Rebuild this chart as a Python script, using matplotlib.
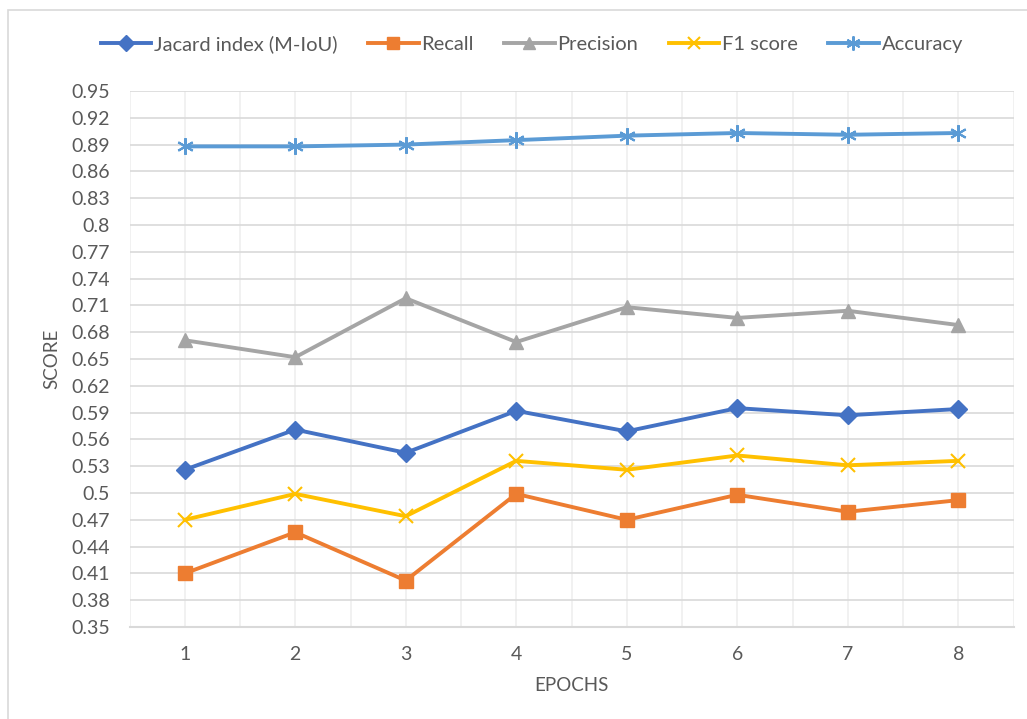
import numpy as np
import matplotlib
matplotlib.use('Agg')
import matplotlib.pyplot as plt
from matplotlib.patches import Rectangle

epochs = [1, 2, 3, 4, 5, 6, 7, 8]
jacard = [0.526, 0.571, 0.545, 0.592, 0.569, 0.595, 0.587, 0.594]
recall = [0.410, 0.456, 0.402, 0.499, 0.470, 0.498, 0.479, 0.492]
precision = [0.671, 0.652, 0.718, 0.669, 0.708, 0.696, 0.704, 0.688]
f1 = [0.470, 0.499, 0.474, 0.536, 0.526, 0.542, 0.531, 0.536]
accuracy = [0.888, 0.888, 0.890, 0.895, 0.900, 0.903, 0.901, 0.903]
yticks = [0.35, 0.38, 0.41, 0.44, 0.47, 0.5, 0.53, 0.56, 0.59, 0.62, 0.65,
          0.68, 0.71, 0.74, 0.77, 0.8, 0.83, 0.86, 0.89, 0.92, 0.95]

plt.rcParams['font.family'] = ['Lato', 'DejaVu Sans']
txt = '#595959'

fig = plt.figure(figsize=(10.27, 7.19), dpi=100)
ax = fig.add_axes([129.5/1027, 1-627/719, (1013.5-129.5)/1027, (627-91)/719])

# outer chart border
fig.patches.append(Rectangle((8/1027, -0.01), 1.0, 1-10/719+0.01, transform=fig.transFigure,
                             fill=False, edgecolor='#d9d9d9', linewidth=1.2))

series = [
    ('Jacard index (M-IoU)', jacard, '#4472C4', 'D', 9),
    ('Recall', recall, '#ED7D31', 's', 10),
    ('Precision', precision, '#A5A5A5', '^', 10),
    ('F1 score', f1, '#FFC000', 'x', 10),
    ('Accuracy', accuracy, '#5B9BD5', (6, 2, 0), 12),
]
for name, vals, col, mk, ms in series:
    ax.plot(epochs, vals, color=col, linewidth=2.8, marker=mk, markersize=ms,
            markeredgewidth=1.5 if mk in ('x',) or isinstance(mk, tuple) else 1,
            markerfacecolor=col, markeredgecolor=col, label=name, zorder=3)

ax.set_xlim(0.5, 8.5)
ax.set_ylim(0.35, 0.95)
ax.set_yticks(yticks)
ax.set_yticklabels([('%g' % v) for v in yticks])
ax.set_xticks(epochs)
ax.set_xticks(np.arange(0.5, 9.0, 1.0), minor=True)
ax.tick_params(axis='both', which='both', length=0, labelsize=14, colors=txt)
ax.tick_params(axis='x', pad=14)
ax.tick_params(axis='y', pad=14)
ax.grid(axis='y', which='major', color='#d9d9d9', linewidth=1.2, zorder=0)
ax.grid(axis='x', which='major', color='#efefef', linewidth=1.2, zorder=0)
ax.grid(axis='x', which='minor', color='#efefef', linewidth=1.2, zorder=0)
for s in ['top', 'right', 'left']:
    ax.spines[s].set_visible(False)
ax.spines['bottom'].set_color('#d9d9d9')
ax.spines['bottom'].set_linewidth(1.5)

ax.set_xlabel('EPOCHS', fontsize=13.5, color=txt, labelpad=10)
ax.set_ylabel('SCORE', fontsize=13.5, color=txt, labelpad=8)

# legend sits centred on the framed chart area (slightly right of figure centre)
ax.legend(loc='center', bbox_to_anchor=(532/1027, 1.0 - 44/719), bbox_transform=fig.transFigure,
          ncol=5, frameon=False,
          fontsize=14.5, handlelength=2.5, handletextpad=0.15, columnspacing=1.5,
          labelcolor=txt, markerscale=0.85)

fig.savefig('out.png', dpi=100)
